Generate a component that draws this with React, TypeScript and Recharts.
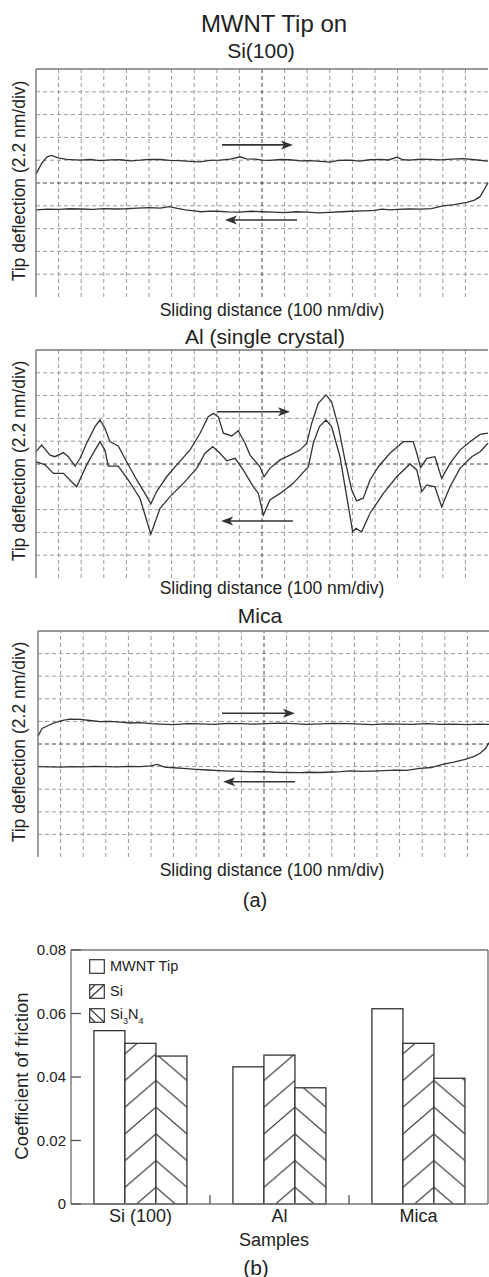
import React from 'react';
import { LineChart, Line, XAxis, YAxis, ReferenceLine, BarChart, Bar, Legend } from 'recharts';

const FONT = '"Liberation Sans", Arial, Helvetica, sans-serif';
const INK = '#222';
const TRACE = '#333';
const FRAME = '#777';

// ---- panel (a): friction loops, x in 100 nm/div, y in 2.2 nm/div ----
const gridX = [1, 2, 3, 4, 5, 6, 7, 8, 9, 11, 12, 13, 14, 15, 16, 17, 18, 19];
const gridY = [1, 2, 3, 4, 6, 7, 8, 9];

const siForward = [
  [0, 5.39], [0.25, 5.86], [0.49, 6.15], [0.69, 6.21], [0.97, 6.1], [1.36, 6.04], [1.95, 6.0], [2.4, 6.03],
  [2.83, 5.98], [3.3, 6.01], [3.72, 6.02], [4.2, 5.97], [4.6, 6.0], [5.0, 6.04], [5.49, 6.03], [5.9, 5.99],
  [6.37, 5.98], [6.8, 5.95], [7.26, 5.93], [7.7, 5.99], [8.14, 6.0], [8.6, 6.05], [9.03, 6.15], [9.3, 6.06],
  [9.69, 6.05], [10.0, 6.0], [10.35, 5.99], [10.8, 6.03], [11.24, 6.02], [11.7, 5.97], [12.12, 5.98],
  [12.6, 5.95], [13.0, 5.92], [13.4, 5.99], [13.9, 6.0], [14.3, 5.96], [14.78, 6.02], [15.2, 6.04],
  [15.6, 6.01], [15.96, 6.13], [16.25, 6.02], [16.55, 6.0], [17.0, 6.05], [17.43, 6.04], [17.9, 6.01],
  [18.4, 6.05], [18.9, 6.07], [19.42, 6.02], [20, 5.96],
];
const siBackward = [
  [0, 3.82], [0.5, 3.85], [1.0, 3.84], [1.5, 3.87], [2.0, 3.86], [2.5, 3.84], [3.0, 3.88], [3.5, 3.86],
  [4.0, 3.87], [4.5, 3.9], [5.0, 3.92], [5.5, 3.9], [5.9, 3.96], [6.2, 3.9], [6.6, 3.82], [7.0, 3.78],
  [7.3, 3.74], [7.7, 3.77], [8.0, 3.76], [8.5, 3.73], [9.0, 3.72], [9.5, 3.76], [10.0, 3.74], [10.5, 3.72],
  [11.0, 3.7], [11.5, 3.74], [12.0, 3.72], [12.5, 3.69], [13.0, 3.71], [13.5, 3.74], [14.0, 3.76],
  [14.5, 3.78], [15.0, 3.8], [15.3, 3.85], [15.7, 3.82], [16.0, 3.84], [16.5, 3.86], [17.0, 3.85],
  [17.5, 3.88], [18.0, 4.0], [18.5, 4.05], [19.06, 4.15], [19.4, 4.25], [19.65, 4.4], [19.87, 4.78], [20, 5.01],
];

const alForward = [
  [0, 5.54], [0.25, 5.83], [0.62, 5.39], [0.84, 5.32], [1.21, 5.5], [1.43, 5.32], [1.73, 4.91], [1.95, 5.25],
  [2.24, 5.91], [2.61, 6.64], [2.83, 6.93], [3.05, 6.57], [3.27, 5.98], [3.64, 5.79], [4.01, 5.1], [4.46, 4.3],
  [4.82, 3.71], [5.08, 3.25], [5.34, 3.79], [5.78, 4.44], [6.23, 4.96], [6.81, 5.61], [7.26, 6.35],
  [7.62, 7.07], [7.85, 7.22], [8.07, 7.07], [8.29, 6.35], [8.66, 6.23], [8.95, 6.46], [9.25, 5.91],
  [9.47, 5.39], [9.91, 4.88], [10.09, 4.44], [10.35, 4.81], [10.8, 5.18], [11.24, 5.39], [11.68, 5.61],
  [11.98, 5.91], [12.2, 6.79], [12.49, 7.66], [12.83, 8.03], [13.08, 7.73], [13.38, 6.64], [13.67, 5.18],
  [13.97, 3.86], [14.19, 3.38], [14.48, 3.5], [14.78, 4.3], [15.15, 4.88], [15.66, 5.47], [16.25, 5.98],
  [16.69, 5.98], [16.85, 5.47], [17.02, 4.84], [17.29, 5.25], [17.65, 5.32], [17.95, 4.37], [18.32, 5.03],
  [18.76, 5.61], [19.2, 5.98], [19.65, 6.3], [20, 6.35],
];
const alBackward = [
  [0, 5.1], [0.4, 4.96], [0.77, 4.59], [1.21, 4.59], [1.8, 4.0], [2.24, 4.96], [2.61, 5.61], [2.83, 5.98],
  [3.05, 5.61], [3.2, 4.91], [3.64, 4.91], [4.08, 4.3], [4.6, 3.5], [5.08, 1.92], [5.49, 3.06], [5.93, 3.57],
  [6.52, 4.15], [7.11, 4.81], [7.48, 5.47], [7.82, 5.76], [8.14, 5.47], [8.44, 5.14], [8.81, 5.25],
  [9.17, 4.74], [9.62, 4.0], [9.84, 3.71], [10.06, 2.76], [10.35, 3.42], [10.8, 3.71], [11.38, 4.15],
  [12.05, 4.88], [12.27, 5.91], [12.54, 6.64], [12.83, 6.93], [13.08, 6.64], [13.45, 5.32], [13.75, 3.57],
  [14.01, 2.03], [14.16, 2.18], [14.41, 2.03], [14.78, 2.84], [15.37, 3.71], [15.96, 4.44], [16.55, 5.0],
  [16.85, 4.74], [17.07, 3.79], [17.29, 4.08], [17.65, 4.0], [17.95, 3.13], [18.32, 4.0], [18.76, 4.81],
  [19.28, 5.32], [19.65, 5.54], [20, 5.91],
];

const micaForward = [
  [0, 5.35], [0.18, 5.69], [0.45, 5.82], [0.75, 5.95], [1.1, 6.05], [1.42, 6.1], [1.86, 6.09], [2.3, 6.04],
  [2.74, 5.99], [3.2, 6.0], [3.63, 5.97], [4.1, 5.93], [4.51, 5.95], [5.0, 5.9], [5.4, 5.88], [6.0, 5.86],
  [6.6, 5.9], [7.17, 5.89], [7.8, 5.87], [8.4, 5.91], [8.94, 5.9], [9.5, 5.88], [10.1, 5.9], [10.7, 5.92],
  [11.3, 5.9], [11.9, 5.87], [12.5, 5.89], [13.1, 5.91], [13.7, 5.9], [14.25, 5.88], [14.8, 5.86],
  [15.4, 5.89], [16.0, 5.88], [16.6, 5.87], [17.2, 5.9], [17.8, 5.87], [18.4, 5.88], [19.0, 5.86],
  [19.5, 5.88], [20, 5.87],
];
const micaBackward = [
  [0, 4.0], [0.5, 3.99], [1.0, 3.98], [1.5, 4.0], [2.0, 3.99], [2.5, 4.01], [3.0, 4.0], [3.5, 3.99],
  [4.0, 4.01], [4.5, 4.0], [5.0, 4.03], [5.27, 4.1], [5.6, 3.98], [6.0, 3.95], [6.4, 3.92], [7.0, 3.88],
  [7.5, 3.85], [8.0, 3.82], [8.5, 3.8], [9.0, 3.79], [9.4, 3.77], [10.0, 3.78], [10.5, 3.75], [11.0, 3.74],
  [11.6, 3.73], [12.0, 3.75], [12.5, 3.74], [13.0, 3.76], [13.4, 3.78], [13.8, 3.81], [14.3, 3.79],
  [14.8, 3.8], [15.3, 3.82], [15.8, 3.84], [16.3, 3.83], [16.9, 3.92], [17.4, 3.96], [17.9, 4.1],
  [18.4, 4.2], [18.9, 4.32], [19.3, 4.45], [19.56, 4.59], [19.8, 4.8], [19.96, 5.06],
];

// direction arrows (x from -> to, at height y), in grid divisions
const siArrows = [{ from: 8.23, to: 11.37, y: 6.67 }, { from: 11.55, to: 8.36, y: 3.38 }];
const alArrows = [{ from: 8.0, to: 11.24, y: 7.29 }, { from: 11.37, to: 8.19, y: 2.5 }];
const micaArrows = [{ from: 8.14, to: 11.37, y: 6.36 }, { from: 11.37, to: 8.19, y: 3.33 }];

// ---- panel (b): coefficient of friction ----
const samples = ['Si (100)', 'Al', 'Mica'];
const mwntTip = [0.0546, 0.0432, 0.0615];
const siTip = [0.0506, 0.0469, 0.0506];
const si3n4Tip = [0.0466, 0.0366, 0.0396];
const frictionTicks = [0, 0.02, 0.04, 0.06, 0.08];
const tipNames = ['MWNT Tip', 'Si', 'Si3N4'];

const toPoints = (arr: number[][]) => arr.map(([x, y]) => ({ x, y }));

const Txt = ({ x, y, size, children, rotate }: any) => (
  <div
    style={{
      position: 'absolute',
      left: x,
      top: y,
      transform: `translate(-50%, -50%)${rotate ? ' rotate(-90deg)' : ''}`,
      fontSize: size,
      lineHeight: 1,
      whiteSpace: 'nowrap',
      color: INK,
    }}
  >
    {children}
  </div>
);

const Arrow = (props: any) => {
  const { x1, y1, x2, y2 } = props;
  const dir = x2 > x1 ? 1 : -1;
  const head = 12;
  return (
    <g>
      <line x1={x1} y1={y1} x2={x2 - dir * head * 0.7} y2={y2} stroke={TRACE} strokeWidth={1.6} />
      <polygon
        points={`${x2},${y2} ${x2 - dir * head},${y2 - 4.5} ${x2 - dir * head * 0.75},${y2} ${x2 - dir * head},${y2 + 4.5}`}
        fill={TRACE}
      />
    </g>
  );
};

const TracePanel = ({ top, left, right, height, forward, backward, arrows }: any) => {
  const width = 492;
  return (
    <div style={{ position: 'absolute', left: 0, top: top - 1, width, height: height + 2 }}>
      <LineChart width={width} height={height + 2} margin={{ top: 1, bottom: 1, left: 0, right: width - right }}>
        <XAxis
          type="number"
          dataKey="x"
          domain={[0, 20]}
          height={0}
          tick={false}
          tickLine={false}
          axisLine={{ stroke: FRAME, strokeWidth: 1.4 }}
        />
        <YAxis
          type="number"
          domain={[0, 10]}
          width={left}
          tick={false}
          tickLine={false}
          axisLine={{ stroke: FRAME, strokeWidth: 1.4 }}
        />
        {gridX.map((v) => (
          <ReferenceLine key={`gx${v}`} x={v} stroke="#9a9a9a" strokeDasharray="4 3" />
        ))}
        {gridY.map((v) => (
          <ReferenceLine key={`gy${v}`} y={v} stroke="#9a9a9a" strokeDasharray="4 3" />
        ))}
        <ReferenceLine x={10} stroke="#444" strokeDasharray="4 3" />
        <ReferenceLine y={5} stroke="#444" strokeDasharray="4 3" />
        <ReferenceLine y={10} stroke={FRAME} strokeWidth={1.4} />
        <Line data={toPoints(forward)} dataKey="y" type="linear" dot={false} stroke={TRACE} strokeWidth={1.3} isAnimationActive={false} />
        <Line data={toPoints(backward)} dataKey="y" type="linear" dot={false} stroke={TRACE} strokeWidth={1.3} isAnimationActive={false} />
        {arrows.map((a: any, i: number) => (
          <ReferenceLine
            key={i}
            segment={[{ x: a.from, y: a.y }, { x: a.to, y: a.y }]}
            shape={(p: any) => <Arrow {...p} />}
          />
        ))}
      </LineChart>
    </div>
  );
};

// hatch spacing and its phase above the baseline
const HATCH = 26.7;
const HATCH_PHASE = 16.7;

const hatchShape = (kind: 'none' | 'up' | 'down') => (props: any) => {
  const { x, y, width, height, index } = props;
  if (!width || !height) return <g />;
  const bottom = y + height;
  const id = `hatch-${kind}-${index}`;
  const H = HATCH;
  const W = width;
  const lines =
    kind === 'up'
      ? [[0, H, W, 0], [0, 2 * H, W, H], [0, 0, W, -H]]
      : [[0, 0, W, H], [0, -H, W, 0], [0, H, W, 2 * H]];
  return (
    <g>
      {kind !== 'none' && (
        <defs>
          <pattern id={id} patternUnits="userSpaceOnUse" x={x} y={bottom - HATCH_PHASE} width={W} height={H}>
            {lines.map(([a, b, c, d], i) => (
              <line key={i} x1={a} y1={b} x2={c} y2={d} stroke={TRACE} strokeWidth={1.2} />
            ))}
          </pattern>
        </defs>
      )}
      <rect x={x} y={y} width={width} height={height} fill="#fff" />
      {kind !== 'none' && <rect x={x} y={y} width={width} height={height} fill={`url(#${id})`} />}
      <rect x={x} y={y} width={width} height={height} fill="none" stroke={TRACE} strokeWidth={1.3} />
    </g>
  );
};

const TICK_MARGIN = 5;

const CategoryTick = (props: any) => {
  const { x, y, payload, index } = props;
  const half = payload && payload.offset ? payload.offset : 0;
  const base = y - TICK_MARGIN;
  return (
    <g>
      <text x={x} y={y} dy="0.71em" textAnchor="middle" fontSize={18} fill={INK} fontFamily={FONT}>
        {payload.value}
      </text>
      {index > 0 && half > 0 && (
        <line x1={x - half} x2={x - half} y1={base} y2={base - 9} stroke="#555" strokeWidth={1.3} />
      )}
    </g>
  );
};

const FrictionTick = (props: any) => {
  const { x, y, payload } = props;
  const v = payload.value;
  return (
    <g>
      <text x={x} y={y} dy="0.355em" textAnchor="end" fontSize={15} fill={INK} fontFamily={FONT}>
        {v === 0 ? '0' : v.toFixed(2)}
      </text>
      <line x1={x + TICK_MARGIN} x2={x + TICK_MARGIN + 10} y1={y} y2={y} stroke="#555" strokeWidth={1.3} />
    </g>
  );
};

const withSubscripts = (name: string) =>
  name.split(/(\d)/).map((part, i) =>
    /\d/.test(part) ? (
      <span key={i} style={{ fontSize: 9, position: 'relative', top: 5 }}>
        {part}
      </span>
    ) : (
      <span key={i}>{part}</span>
    )
  );

const Swatch = ({ kind }: { kind: string }) => (
  <svg width={16} height={15} style={{ display: 'block' }}>
    <rect x={0.7} y={0.7} width={14.6} height={13.6} fill="#fff" stroke={TRACE} strokeWidth={1.2} />
    {kind === 'up' && (
      <>
        <line x1={1} y1={14} x2={15} y2={1} stroke={TRACE} strokeWidth={1.1} />
        <line x1={1} y1={6} x2={6} y2={1} stroke={TRACE} strokeWidth={1.1} />
      </>
    )}
    {kind === 'down' && (
      <>
        <line x1={1} y1={1} x2={15} y2={14} stroke={TRACE} strokeWidth={1.1} />
        <line x1={1} y1={9} x2={6} y2={14} stroke={TRACE} strokeWidth={1.1} />
      </>
    )}
  </svg>
);

const swatchKinds = ['none', 'up', 'down'];

const FrictionLegend = () => (
  <div style={{ fontFamily: FONT, fontSize: 14.5, color: INK }}>
    {tipNames.map((name, i) => (
      <div key={name} style={{ display: 'flex', alignItems: 'center', height: 15, marginBottom: 9.5 }}>
        <Swatch kind={swatchKinds[i]} />
        <span style={{ marginLeft: 5, lineHeight: '15px' }}>{withSubscripts(name)}</span>
      </div>
    ))}
  </div>
);

const frictionData = samples.map((s, i) => ({
  sample: s,
  mwnt: mwntTip[i],
  si: siTip[i],
  si3n4: si3n4Tip[i],
}));

export default function App() {
  return (
    <div
      style={{
        position: 'absolute',
        left: 0,
        top: 0,
        width: 489,
        height: 1277,
        overflow: 'hidden',
        background: '#fff',
        fontFamily: FONT,
      }}
    >
      <Txt x={274} y={24} size={24}>MWNT Tip on</Txt>
      <Txt x={261} y={50} size={21}>Si(100)</Txt>
      <TracePanel top={69} left={36} right={488} height={228} forward={siForward} backward={siBackward} arrows={siArrows} />
      <Txt x={20} y={181} size={17.5} rotate>Tip deflection (2.2 nm/div)</Txt>
      <Txt x={272} y={311} size={17.5}>Sliding distance (100 nm/div)</Txt>

      <Txt x={265} y={336} size={21}>Al (single crystal)</Txt>
      <TracePanel top={350} left={36} right={488} height={228} forward={alForward} backward={alBackward} arrows={alArrows} />
      <Txt x={20} y={461} size={17.5} rotate>Tip deflection (2.2 nm/div)</Txt>
      <Txt x={272} y={589} size={17.5}>Sliding distance (100 nm/div)</Txt>

      <Txt x={260} y={615} size={21}>Mica</Txt>
      <TracePanel top={631} left={38} right={490} height={226} forward={micaForward} backward={micaBackward} arrows={micaArrows} />
      <Txt x={20} y={742} size={17.5} rotate>Tip deflection (2.2 nm/div)</Txt>
      <Txt x={272} y={871} size={17.5}>Sliding distance (100 nm/div)</Txt>
      <Txt x={255} y={900} size={20}>(a)</Txt>

      <div style={{ position: 'absolute', left: 0, top: 930, width: 489, height: 300 }}>
        <BarChart
          width={489}
          height={300}
          data={frictionData}
          margin={{ top: 20, right: 0, bottom: 0, left: 0 }}
          barCategoryGap="16.5%"
          barGap={0}
        >
          <XAxis
            dataKey="sample"
            height={26}
            tickSize={0}
            tickMargin={TICK_MARGIN}
            tick={<CategoryTick />}
            axisLine={{ stroke: FRAME, strokeWidth: 1.4 }}
          />
          <YAxis
            type="number"
            domain={[0, 0.08]}
            ticks={frictionTicks}
            width={71}
            tickSize={0}
            tickMargin={TICK_MARGIN}
            tick={<FrictionTick />}
            axisLine={{ stroke: FRAME, strokeWidth: 1.4 }}
          />
          <YAxis
            yAxisId="frame"
            orientation="right"
            domain={[0, 0.08]}
            width={1}
            tick={false}
            tickLine={false}
            axisLine={{ stroke: FRAME, strokeWidth: 1.4 }}
          />
          <ReferenceLine y={0.08} stroke={FRAME} strokeWidth={1.4} />
          <Legend
            layout="vertical"
            align="center"
            verticalAlign="middle"
            wrapperStyle={{ left: 89, top: 29, width: 130, height: 75 }}
            content={() => <FrictionLegend />}
          />
          <Bar dataKey="mwnt" name={tipNames[0]} shape={hatchShape('none')} isAnimationActive={false} />
          <Bar dataKey="si" name={tipNames[1]} shape={hatchShape('up')} isAnimationActive={false} />
          <Bar dataKey="si3n4" name={tipNames[2]} shape={hatchShape('down')} isAnimationActive={false} />
        </BarChart>
      </div>
      <Txt x={22} y={1076} size={18.5} rotate>Coefficient of friction</Txt>
      <Txt x={274} y={1240} size={18}>Samples</Txt>
      <Txt x={256} y={1267} size={21}>(b)</Txt>
    </div>
  );
}
